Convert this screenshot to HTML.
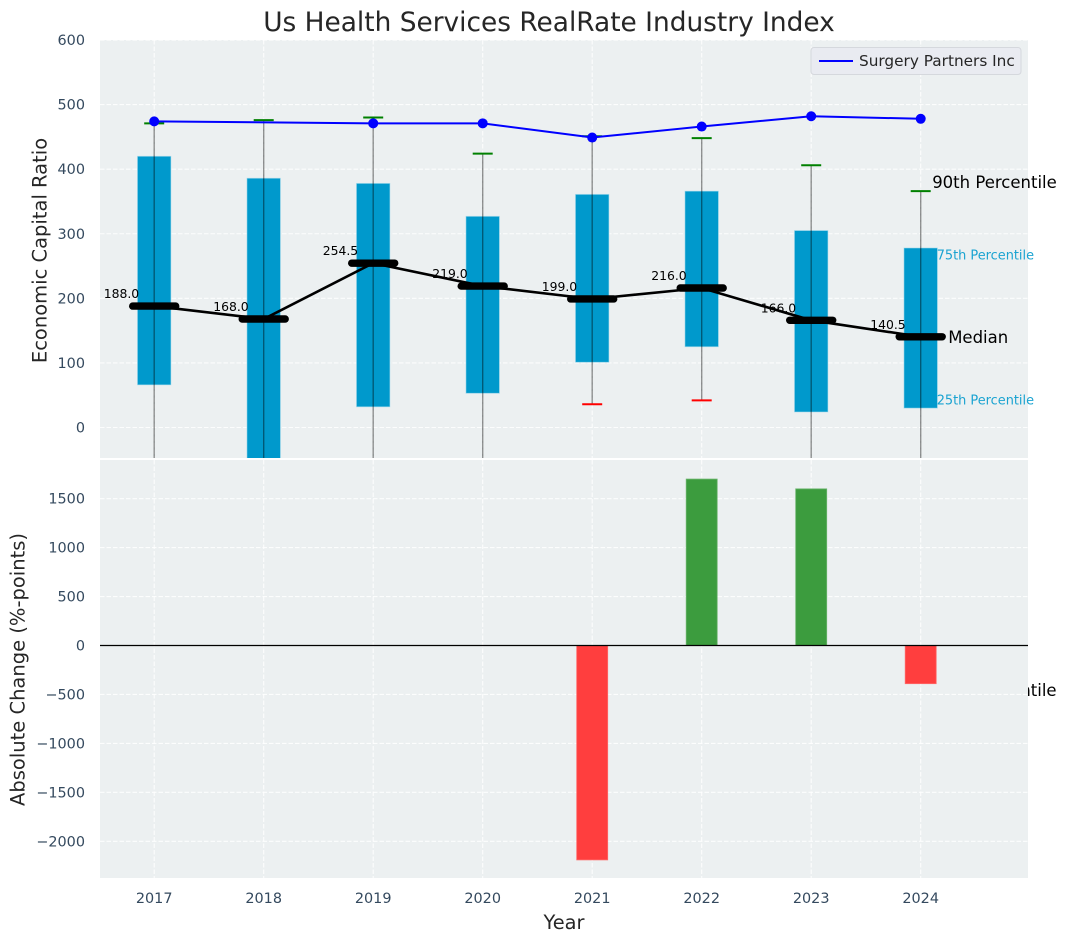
<!DOCTYPE html>
<html lang="en">
<head>
<meta charset="utf-8">
<title>Us Health Services RealRate Industry Index</title>
<style>
html,body{margin:0;padding:0;background:#fff;}
svg{display:block;font-family:"DejaVu Sans","Liberation Sans",sans-serif;}
</style>
</head>
<body>
<svg id="chart" xmlns="http://www.w3.org/2000/svg" width="1067" height="942" viewBox="0 0 1067 942">
  <defs>
    <clipPath id="clip-top"><rect x="100" y="40" width="928" height="418"/></clipPath>
    <clipPath id="clip-bottom"><rect x="100" y="460" width="928" height="418"/></clipPath>
  </defs>
  <rect x="0" y="0" width="1067" height="942" fill="#ffffff"/>
  <text x="549" y="31" font-size="26.4px" text-anchor="middle" fill="#262626">Us Health Services RealRate Industry Index</text>
  <rect x="100" y="40" width="928" height="418" fill="#ecf0f1"/>
  <g id="top-grid"></g>
  <g id="top-marks" clip-path="url(#clip-top)"></g>
  <g id="top-labels"></g>
  <text x="932" y="696" font-size="16.5px" fill="#000000">10th Percentile</text>
  <rect x="100" y="460" width="928" height="418" fill="#ecf0f1"/>
  <g id="bottom-grid"></g>
  <g id="bottom-marks" clip-path="url(#clip-bottom)"></g>
  <line x1="100" x2="1028" y1="645.5" y2="645.5" stroke="#000000" stroke-width="1.2"/>
  <g id="tick-labels"></g>
  <text transform="translate(46.5,250.5) rotate(-90)" font-size="19.5px" text-anchor="middle" fill="#262626">Economic Capital Ratio</text>
  <text transform="translate(24.5,669.5) rotate(-90)" font-size="19.5px" text-anchor="middle" fill="#262626">Absolute Change (%-points)</text>
  <text x="564" y="929" font-size="19.4px" text-anchor="middle" fill="#262626">Year</text>
  <g>
    <rect x="811" y="47.5" width="210" height="27" rx="3" fill="#e9ebf1" stroke="#d5d8dd" stroke-width="1"/>
    <line x1="819" x2="853" y1="61" y2="61" stroke="#0000ff" stroke-width="2"/>
    <text x="859" y="66" font-size="15.3px" fill="#262626">Surgery Partners Inc</text>
  </g>
</svg>
<script>
const years = [2017, 2018, 2019, 2020, 2021, 2022, 2023, 2024];
const p90 = [471, 476, 480, 424, 451, 448, 406, 366];
const p75 = [420, 386, 378, 327, 361, 366, 305, 278];
const medians = [188.0, 168.0, 254.5, 219.0, 199.0, 216.0, 166.0, 140.5];
const p25 = [66, -60, 32, 53, 101, 125, 24, 30];
const p10 = [-120, -150, -110, -90, 36, 42, -80, -90];
const company = [474, null, 471, 471, 449, 466, 482, 478];
const changes = [0, 0, 0, 0, -2190, 1700, 1600, -390];
const topTicks = [600, 500, 400, 300, 200, 100, 0];
const bottomTicks = [1500, 1000, 500, 0, -500, -1000, -1500, -2000];

const NS = 'http://www.w3.org/2000/svg';
function x(year) { return 154.2 + (year - 2017) * 109.5; }
function yTop(v) { return 427.5 - v * 0.6458; }
function yBottom(v) { return 645.5 - v * 0.0979; }
function add(parent, tag, attrs, text) {
  const el = document.createElementNS(NS, tag);
  for (const k in attrs) el.setAttribute(k, attrs[k]);
  if (text !== undefined) el.textContent = text;
  parent.appendChild(el);
  return el;
}
const topGrid = document.getElementById('top-grid');
const topMarks = document.getElementById('top-marks');
const topLabels = document.getElementById('top-labels');
const bottomGrid = document.getElementById('bottom-grid');
const bottomMarks = document.getElementById('bottom-marks');
const tickLabels = document.getElementById('tick-labels');
const gridStyle = { stroke: '#ffffff', 'stroke-opacity': 0.85, 'stroke-width': 1.1, 'stroke-dasharray': '4.5 2' };

topTicks.forEach(function (t) {
  const g = add(topGrid, 'line', Object.assign({ x1: 100, x2: 1028, y1: yTop(t), y2: yTop(t) }, gridStyle));
  
  
  const l = add(tickLabels, 'text', { x: 85, y: yTop(t) + 5, 'font-size': '14.4px', 'text-anchor': 'end', fill: '#34495e' }, String(t));
  
  
});
bottomTicks.forEach(function (t) {
  const g = add(bottomGrid, 'line', Object.assign({ x1: 100, x2: 1028, y1: yBottom(t), y2: yBottom(t) }, gridStyle));
  
  
  const l = add(tickLabels, 'text', { x: 85, y: yBottom(t) + 5, 'font-size': '14.4px', 'text-anchor': 'end', fill: '#34495e' }, String(t).replace('-', '\u2212'));
  
  
});
years.forEach(function (yr) {
  const g1 = add(topGrid, 'line', Object.assign({ x1: x(yr), x2: x(yr), y1: 40, y2: 458 }, gridStyle));
  
  
  const g2 = add(bottomGrid, 'line', Object.assign({ x1: x(yr), x2: x(yr), y1: 460, y2: 878 }, gridStyle));
  
  
  const l = add(tickLabels, 'text', { x: x(yr), y: 903, 'font-size': '14.4px', 'text-anchor': 'middle', fill: '#34495e' }, String(yr));
  
  
});

years.forEach(function (yr, i) {
  const box = add(topMarks, 'rect', {
    x: x(yr) - 16.75, width: 33.5,
    y: yTop(p75[i]), height: yTop(p25[i]) - yTop(p75[i]),
    fill: '#0099cc', stroke: '#a9dcec', 'stroke-width': 0.8, 'stroke-opacity': 0.7
  });
  
  
  const w = add(topMarks, 'line', {
    x1: x(yr), x2: x(yr), y1: yTop(p90[i]), y2: yTop(p10[i]),
    stroke: '#000000', 'stroke-opacity': 0.42, 'stroke-width': 1.4
  });
  
  
  const c1 = add(topMarks, 'line', {
    x1: x(yr) - 10, x2: x(yr) + 10, y1: yTop(p90[i]), y2: yTop(p90[i]),
    stroke: '#008000', 'stroke-width': 2
  });
  
  
  const c2 = add(topMarks, 'line', {
    x1: x(yr) - 10, x2: x(yr) + 10, y1: yTop(p10[i]), y2: yTop(p10[i]),
    stroke: '#ff0000', 'stroke-width': 2
  });
  
  
});

const medianPath = add(topMarks, 'polyline', {
  points: years.map(function (yr, i) { return x(yr) + ',' + yTop(medians[i]); }).join(' '),
  fill: 'none', stroke: '#000000', 'stroke-width': 2.6
});



years.forEach(function (yr, i) {
  const m = add(topMarks, 'line', {
    x1: x(yr) - 21.5, x2: x(yr) + 21.5, y1: yTop(medians[i]), y2: yTop(medians[i]),
    stroke: '#000000', 'stroke-width': 7.4, 'stroke-linecap': 'round'
  });
  
  
  const t = add(topLabels, 'text', {
    x: x(yr) - 15, y: yTop(medians[i]) - 8, 'font-size': '12.4px', 'text-anchor': 'end', fill: '#000000'
  }, medians[i].toFixed(1));
  
  
});

const companyLine = add(topMarks, 'polyline', {
  points: years.map(function (yr, i) { return company[i] === null ? '' : x(yr) + ',' + yTop(company[i]); }).join(' '),
  fill: 'none', stroke: '#0000ff', 'stroke-width': 2
});


years.forEach(function (yr, i) {
  if (company[i] === null) return;
  const d = add(topMarks, 'circle', { cx: x(yr), cy: yTop(company[i]), r: 5, fill: '#0000ff' });
  
  
});

const last = years.length - 1;
const lastX = x(years[last]);
const a90 = add(topLabels, 'text', { x: lastX + 11.5, y: yTop(p90[last]) - 3, 'font-size': '16.5px', fill: '#000000' }, '90th Percentile');


const a75 = add(topLabels, 'text', { x: lastX + 16, y: yTop(p75[last]) + 11.5, 'font-size': '12.9px', fill: '#1aa3d1' }, '75th Percentile');


const aMed = add(topLabels, 'text', { x: lastX + 27.5, y: yTop(medians[last]) + 6, 'font-size': '16.5px', fill: '#000000' }, 'Median');


const a25 = add(topLabels, 'text', { x: lastX + 16, y: yTop(p25[last]) - 3.5, 'font-size': '12.9px', fill: '#1aa3d1' }, '25th Percentile');



years.forEach(function (yr, i) {
  if (changes[i] === 0) return;
  const top = Math.min(yBottom(changes[i]), yBottom(0));
  const h = Math.abs(yBottom(changes[i]) - yBottom(0));
  const b = add(bottomMarks, 'rect', {
    x: x(yr) - 15.5, width: 31, y: top, height: h,
    fill: changes[i] > 0 ? '#3c9c3e' : '#ff3e3e',
    stroke: changes[i] > 0 ? '#6ab56c' : '#ff6a6a', 'stroke-width': 0.8
  });
  
  
});
</script>
</body>
</html>
